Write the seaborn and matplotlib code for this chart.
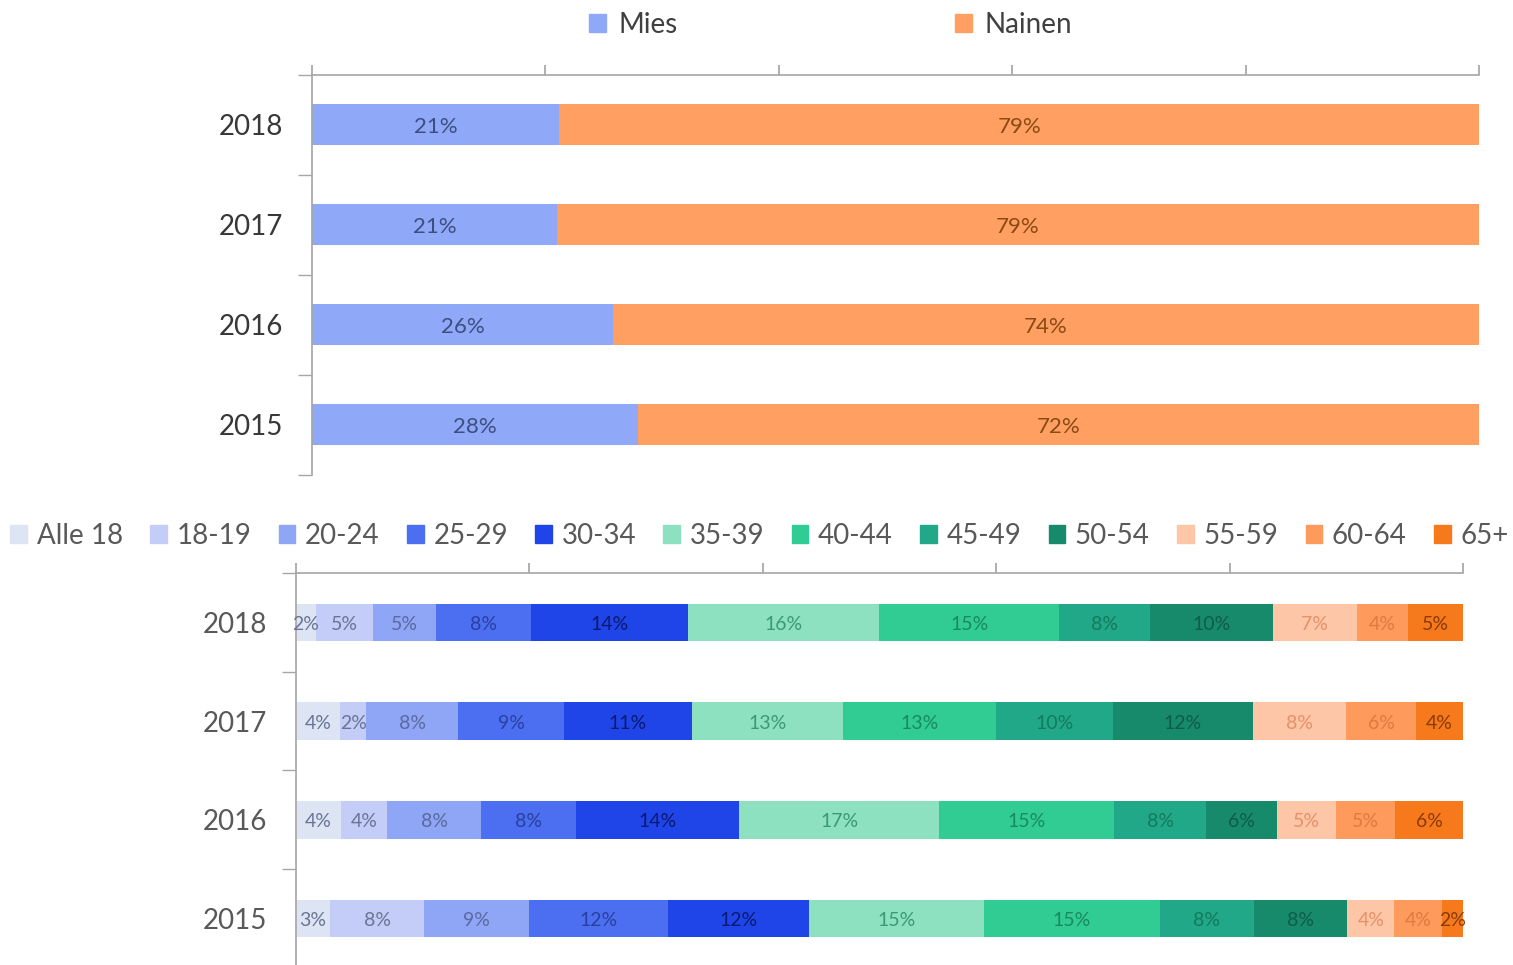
import numpy as np
import pandas as pd
import seaborn as sns
import matplotlib.pyplot as plt
from matplotlib.patches import Patch

# --- data ---
years = ['2018', '2017', '2016', '2015']

# upper chart: gender share (%)
mies = [21.2, 21.0, 25.8, 27.9]
nainen = [78.8, 79.0, 74.2, 72.1]
gender_labels = ['Mies', 'Nainen']
gender_colors = ['#8fa8f8', '#ffa062']
gender_text = ['#3d4f80', '#8a4a14']

# lower chart: age groups (%), rows follow years
age_groups = ['Alle 18', '18-19', '20-24', '25-29', '30-34', '35-39',
              '40-44', '45-49', '50-54', '55-59', '60-64', '65+']
age_2018 = [1.7, 4.9, 5.4, 8.1, 13.5, 16.4, 15.4, 7.8, 10.5, 7.2, 4.4, 4.7]
age_2017 = [3.8, 2.2, 7.9, 9.1, 10.9, 13.0, 13.1, 10.0, 12.0, 8.0, 6.0, 4.0]
age_2016 = [3.9, 3.9, 8.1, 8.1, 14.0, 17.1, 15.0, 7.9, 6.1, 5.0, 5.1, 5.8]
age_2015 = [2.9, 8.1, 9.0, 11.9, 12.1, 15.0, 15.0, 8.1, 8.0, 4.0, 4.1, 1.8]

age_colors = ['#dde5f5', '#c3cdf7', '#8fa5f5', '#4b6ff0', '#1f45e8', '#8de0c0',
              '#30cc94', '#20a888', '#178a6c', '#fdc6a6', '#fe9a5c', '#f67a1c']
age_text = ['#6a7595', '#6a7595', '#5a6aa0', '#2a3fa0', '#0a1a70', '#3a9a78',
            '#1a8a60', '#157a5e', '#0f5c48', '#e8906a', '#e07a40', '#8a3a08']

sns.set_theme(style='white')
plt.rcParams['font.family'] = ['Lato', 'DejaVu Sans']

fig = plt.figure(figsize=(15.13, 9.65), dpi=100)
ax1 = fig.add_axes([0.2062, 0.5078, 0.7713, 0.4145])
ax2 = fig.add_axes([0.1956, -0.003, 0.7713, 0.4092])


def stacked(ax, parts, colors, txt_colors, height, fsize):
    # cumulative bars drawn from the right so earlier parts sit on top
    cum = np.cumsum(np.array(parts), axis=0)
    for k in range(len(parts) - 1, -1, -1):
        df = pd.DataFrame({'year': years, 'value': cum[k]})
        sns.barplot(data=df, x='value', y='year', order=years, orient='h',
                    color=colors[k], width=height, saturation=1,
                    edgecolor='none', linewidth=0, ax=ax)
    for k in range(len(parts)):
        for i in range(len(years)):
            v = parts[k][i]
            ax.text(cum[k][i] - v / 2, i + 0.02, f'{v:.0f}%', ha='center', va='center',
                    color=txt_colors[k], fontsize=fsize)


def style_axes(ax, ylab_color):
    ax.set_xlim(0, 100)
    ax.set_ylim(3.5, -0.5)
    ax.set_xlabel('')
    ax.set_ylabel('')
    for s in ['right', 'bottom']:
        ax.spines[s].set_visible(False)
    for s in ['top', 'left']:
        ax.spines[s].set_color('#a6a6a6')
        ax.spines[s].set_linewidth(1.2)
    ax.xaxis.set_ticks_position('top')
    ax.set_xticks(np.arange(0, 101, 20))
    ax.tick_params(axis='x', direction='out', length=7, color='#a6a6a6',
                   labeltop=False, labelbottom=False)
    ax.set_yticks([-0.5, 0.5, 1.5, 2.5, 3.5], minor=True)
    ax.tick_params(axis='y', which='minor', direction='out', length=10,
                   color='#a6a6a6', left=True)
    ax.tick_params(axis='y', which='major', length=0, pad=21,
                   labelsize=20, labelcolor=ylab_color)


stacked(ax1, [mies, nainen], gender_colors, gender_text, 0.41, 16)
style_axes(ax1, '#383838')

age_parts = [list(col) for col in zip(age_2018, age_2017, age_2016, age_2015)]
stacked(ax2, age_parts, age_colors, age_text, 0.38, 14)
style_axes(ax2, '#595959')

h1 = [Patch(color=c) for c in gender_colors]
fig.legend(h1, gender_labels, loc='center', bbox_to_anchor=(0.549, 0.974), ncol=2,
           frameon=False, fontsize=20, handlelength=0.6, handleheight=0.6,
           handletextpad=0.45, columnspacing=10.0, labelcolor='#404040')

h2 = [Patch(color=c) for c in age_colors]
fig.legend(h2, age_groups, loc='center', bbox_to_anchor=(0.502, 0.445), ncol=12,
           frameon=False, fontsize=20, handlelength=0.6, handleheight=0.6,
           handletextpad=0.35, columnspacing=0.98, labelcolor='#595959')

fig.savefig('out.png', dpi=100)
